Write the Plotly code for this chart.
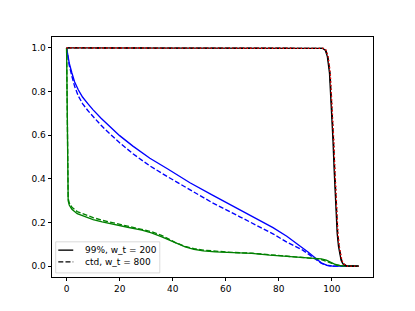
import plotly.graph_objects as go

# Black (99%, w_t = 200) solid
black_x = [0, 95, 96.5, 97.5, 98.3, 99.1, 99.7, 100.4, 100.9, 101.4, 102.0, 102.5, 102.9, 103.5, 104.2, 105.0, 105.5, 110]
black_y = [1, 1, 0.998, 0.99, 0.96, 0.885, 0.76, 0.58, 0.43, 0.27, 0.15, 0.09, 0.058, 0.025, 0.01, 0.003, 0.0, 0.0]
# Black dashed (ctd, w_t = 800)
blackd_x = [0, 95.2, 96.7, 97.7, 98.5, 99.3, 99.9, 100.6, 101.1, 101.6, 102.2, 102.7, 103.1, 103.7, 104.4, 105.2, 105.7, 110]
blackd_y = [1, 1, 0.998, 0.99, 0.96, 0.885, 0.76, 0.58, 0.43, 0.27, 0.15, 0.09, 0.058, 0.025, 0.01, 0.003, 0.0, 0.0]
# Red dotted
red_x = [0, 95.3, 96.8, 97.8, 98.6, 99.4, 100.0, 100.7, 101.2, 101.7, 102.3, 102.8, 103.2, 103.8, 104.5, 105.3, 105.8, 110]
red_y = [1, 1, 0.998, 0.99, 0.96, 0.885, 0.76, 0.58, 0.43, 0.27, 0.15, 0.09, 0.058, 0.025, 0.01, 0.003, 0.0, 0.0]

blue_x = [0, 0.5, 1, 2, 3, 4.4, 6, 8, 10, 13, 16, 20, 25, 31.4, 38, 46.5, 55, 65.3, 72, 77.8, 83, 87.8, 91, 94, 96, 98, 100, 110]
blue_y = [1, 0.96, 0.93, 0.885, 0.845, 0.808, 0.775, 0.745, 0.716, 0.678, 0.643, 0.598, 0.55, 0.494, 0.446, 0.382, 0.325, 0.258, 0.214, 0.176, 0.137, 0.096, 0.065, 0.035, 0.015, 0.004, 0.0005, 0.0]
blued_x = [0, 0.5, 1, 2, 3, 4.4, 6, 8, 10, 13, 16, 20, 25, 31.4, 38, 46.5, 55, 65.3, 72, 77.8, 83, 89, 92, 94, 96, 98, 100, 110]
blued_y = [1, 0.955, 0.92, 0.87, 0.825, 0.78, 0.745, 0.713, 0.685, 0.645, 0.61, 0.565, 0.515, 0.459, 0.41, 0.35, 0.29, 0.226, 0.185, 0.148, 0.11, 0.073, 0.048, 0.03, 0.013, 0.003, 0.0, 0.0]

green_x = [0, 0.2, 0.4, 0.6, 1, 2, 4, 7, 10, 13.4, 18, 23, 28.4, 32, 35.9, 38.9, 41, 44.7, 48, 51.5, 56, 62, 69.8, 76.6, 85, 90, 94, 96, 97.9, 99.5, 101, 102.9, 104, 110]
green_y = [1, 0.7, 0.4, 0.3, 0.28, 0.26, 0.24, 0.225, 0.213, 0.203, 0.19, 0.178, 0.165, 0.152, 0.134, 0.119, 0.105, 0.088, 0.077, 0.07, 0.065, 0.061, 0.058, 0.05, 0.044, 0.04, 0.036, 0.033, 0.027, 0.018, 0.009, 0.003, 0.001, 0.0]
greend_x = [0, 0.2, 0.4, 0.6, 1, 2, 4, 7, 10, 13.4, 18, 23, 28.4, 32, 36, 39, 41, 44.7, 48, 51.5, 56, 62, 70, 77, 85, 90, 94, 96, 98, 100, 102, 104, 110]
greend_y = [1, 0.7, 0.42, 0.31, 0.29, 0.27, 0.25, 0.235, 0.222, 0.21, 0.197, 0.184, 0.17, 0.158, 0.14, 0.122, 0.108, 0.09, 0.08, 0.073, 0.068, 0.063, 0.059, 0.052, 0.045, 0.04, 0.034, 0.03, 0.022, 0.012, 0.004, 0.001, 0.0]

legend_labels = ["99%, w_t = 200", "ctd, w_t = 800"]

x_ticks = [0, 20, 40, 60, 80, 100]
y_ticks = [0.0, 0.2, 0.4, 0.6, 0.8, 1.0]

LW = 1.35
DASH = "5px,2.2px"
fig = go.Figure()

def add(x, y, color, dash):
    fig.add_trace(go.Scatter(x=x, y=y, mode="lines", showlegend=False, hoverinfo="skip",
                             line=dict(color=color, width=LW, dash=dash)))

add(blue_x, blue_y, "#0000ff", "solid")
add(blued_x, blued_y, "#0000ff", DASH)
add(green_x, green_y, "#008000", "solid")
add(greend_x, greend_y, "#008000", DASH)
add(black_x, black_y, "#000000", "solid")
add(blackd_x, blackd_y, "#000000", DASH)
add(red_x, red_y, "#ff0000", "1.4px,2.2px")

# matplotlib-style legend (drawn in paper coordinates)
fig.add_shape(type="rect", xref="paper", yref="paper", x0=0.0115, x1=0.3358, y0=0.0171, y1=0.1466,
              line=dict(color="#d0d0d0", width=0.8), fillcolor="rgba(255,255,255,0.8)", layer="above")
legend_rows = [0.1119, 0.063]
legend_dashes = ["solid", DASH]
for label, yy, dsh in zip(legend_labels, legend_rows, legend_dashes):
    fig.add_shape(type="line", xref="paper", yref="paper", x0=0.0196, x1=0.0662, y0=yy, y1=yy,
                  line=dict(color="#000000", width=LW, dash=dsh), layer="above")
    fig.add_annotation(x=0.0973, y=yy, xref="paper", yref="paper", text=label, showarrow=False,
                       xanchor="left", yanchor="middle",
                       font=dict(family="DejaVu Sans", size=9, color="#000000"))

axis_common = dict(showline=True, linecolor="#000000", linewidth=0.8, mirror=True,
                   ticks="outside", ticklen=3.5, tickwidth=0.8, tickcolor="#000000",
                   showgrid=False, zeroline=False,
                   tickfont=dict(family="DejaVu Sans", size=9, color="#000000"))

fig.update_layout(
    width=415, height=311,
    margin=dict(l=52, r=41.5, t=37.3, b=34.2),
    paper_bgcolor="white", plot_bgcolor="white",
    xaxis=dict(range=[-5.5, 115.5], tickvals=x_ticks, **axis_common),
    yaxis=dict(range=[-0.05, 1.05], tickvals=y_ticks, tickformat=".1f", **axis_common),
    showlegend=False,
    font=dict(family="DejaVu Sans"),
)

fig.write_html("out.html", config={"displayModeBar": False},
               post_script="document.body.style.margin='0';document.body.style.overflow='hidden';")
